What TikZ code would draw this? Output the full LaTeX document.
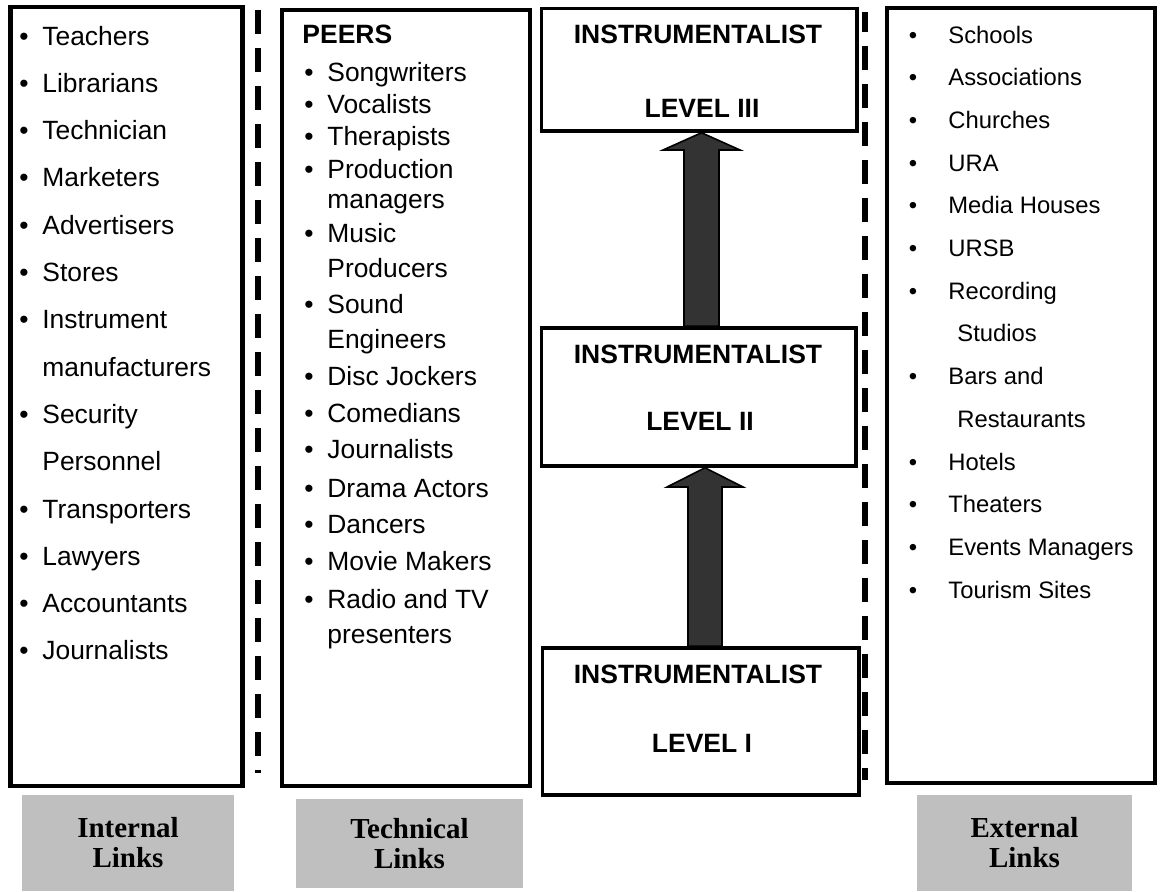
\documentclass[tikz,border=0pt]{standalone}
\usepackage{fontspec}
\setmainfont{Liberation Sans}
\newfontfamily\tagfont{Liberation Serif}

\definecolor{tagfill}{HTML}{BFBFBF}
\definecolor{stepfill}{HTML}{333333}

\tikzset{
  linkbox/.style={draw, line width=2.25pt, inner sep=0pt},
  levelbox/.style={draw, line width=1.75pt, inner sep=0pt},
  tagbox/.style={fill=tagfill, inner sep=0pt, align=center,
    font=\tagfont\bfseries\fontsize{14.5}{15}\selectfont},
  entry/.style={anchor=base west, inner sep=0pt, font=\fontsize{13.2}{15}\selectfont},
  dot/.style={anchor=base, inner sep=0pt, font=\fontsize{13.2}{15}\selectfont},
  small/.style={font=\fontsize{11.9}{14}\selectfont},
  title/.style={anchor=base, inner sep=0pt, font=\bfseries\fontsize{13.25}{15}\selectfont},
  divider/.style={line width=2.75pt, dash pattern=on 12pt off 7pt},
  stepup/.style={draw, line width=0.8pt, fill=stepfill, line join=miter},
}

\begin{document}
\begin{tikzpicture}[x=0.5pt, y=-0.5pt]
  \useasboundingbox (0,0) rectangle (1160,891);

  % the three link columns
  \node[linkbox, minimum width=116pt, minimum height=389.5pt] (internal) at (126.5,396.5) {};
  \node[linkbox, minimum width=124pt, minimum height=388pt] (technical) at (406,398) {};
  \node[linkbox, minimum width=134pt, minimum height=387.5pt] (external) at (1021,395.5) {};

  % dashed separators
  \draw[divider] (258,10) -- (258,773);
  \draw[divider, dash phase=2pt] (865,12) -- (865,780);

  % instrumentalist levels
  \node[levelbox, minimum width=157.75pt, minimum height=61.25pt] (lvl3) at (699.25,69.75) {};
  \node[levelbox, minimum width=157.25pt, minimum height=69pt] (lvl2) at (698.75,397) {};
  \node[levelbox, minimum width=158.25pt, minimum height=73.5pt] (lvl1) at (700.75,721.5) {};

  \node[title] (lvl3-name) at (698,43) {INSTRUMENTALIST};
  \node[title] (lvl3-num) at (702,117) {LEVEL III};
  \node[title] (lvl2-name) at (698,363) {INSTRUMENTALIST};
  \node[title] (lvl2-num) at (700,430) {LEVEL II};
  \node[title] (lvl1-name) at (698,683) {INSTRUMENTALIST};
  \node[title] (lvl1-num) at (702,752) {LEVEL I};

  % block arrows between levels
  \draw[stepup] (684,0 |- lvl2.north) -- (684,150) -- (663,150) -- (701.5,0 |- lvl3.south)
    -- (740,150) -- (719,150) -- (719,0 |- lvl2.north) -- cycle;
  \draw[stepup] (688,0 |- lvl1.north) -- (688,487) -- (667,487) -- (705,0 |- lvl2.south)
    -- (743,487) -- (722,487) -- (722,0 |- lvl1.north) -- cycle;

  % internal links
  \foreach \lbl/\bul [count=\i from 0] in {Teachers/1, Librarians/1, Technician/1,
      Marketers/1, Advertisers/1, Stores/1, Instrument/1, manufacturers/0,
      Security/1, Personnel/0, Transporters/1, Lawyers/1, Accountants/1, Journalists/1}{
    \node[entry] (int-\i) at (42,{45+47.3*\i}) {\lbl};
    \ifnum\bul=1 \node[dot] (intdot-\i) at (24,{45+47.3*\i}) {•}; \fi
  }

  % technical links
  \node[title, anchor=base west] (peers) at (302,43) {PEERS};
  \foreach \y/\lbl/\bul [count=\i] in {81/Songwriters/1, 113/Vocalists/1, 145/Therapists/1,
      178/Production/1, 208/managers/0, 242/Music/1, 277/Producers/0, 313/Sound/1,
      348/Engineers/0, 385/Disc Jockers/1, 422/Comedians/1, 458/Journalists/1,
      497/Drama Actors/1, 533/Dancers/1, 570/Movie Makers/1, 608/Radio and TV/1,
      643/presenters/0}{
    \node[entry] (tec-\i) at (327,\y) {\lbl};
    \ifnum\bul=1 \node[dot] (tecdot-\i) at (309,\y) {•}; \fi
  }

  % external links
  \foreach \lbl/\bul [count=\i from 0] in {Schools/1, Associations/1, Churches/1, URA/1,
      Media Houses/1, URSB/1, Recording/1, Studios/0, Bars and/1, Restaurants/0,
      Hotels/1, Theaters/1, Events Managers/1, Tourism Sites/1}{
    \ifnum\bul=1
      \node[dot, small] (extdot-\i) at (913,{43+42.7*\i}) {•};
      \node[entry, small] (ext-\i) at (948,{43+42.7*\i}) {\lbl};
    \else
      \node[entry, small] (ext-\i) at (957,{43+42.7*\i}) {\lbl};
    \fi
  }

  % captions under the columns
  \node[tagbox, minimum width=106pt, minimum height=48pt] (internal-tag) at (128,843) {Internal\\Links};
  \node[tagbox, minimum width=113.5pt, minimum height=44.5pt] (technical-tag) at (409.5,843.5) {Technical\\Links};
  \node[tagbox, minimum width=107.5pt, minimum height=48pt] (external-tag) at (1024.5,843) {External\\Links};
\end{tikzpicture}
\end{document}
